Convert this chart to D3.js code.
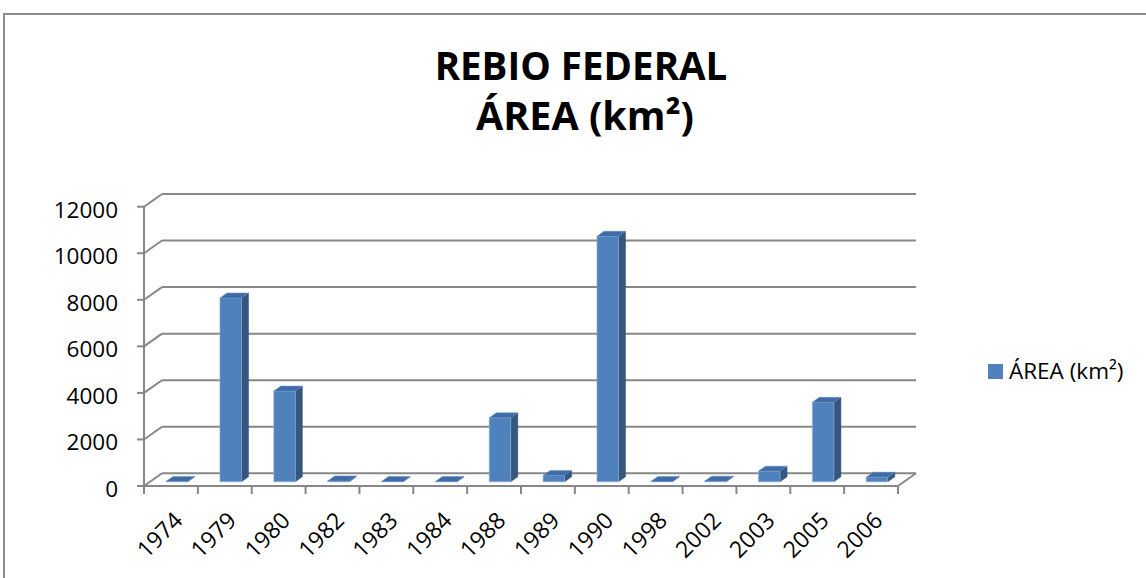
<!DOCTYPE html>
<html>
<head>
<meta charset="utf-8">
<script src="https://cdn.jsdelivr.net/npm/d3@7"></script>
<style>
  html, body { margin: 0; padding: 0; background: #fff; }
  svg { display: block; }
  text { font-family: "Open Sans", "Noto Sans", sans-serif; fill: #000; }
</style>
</head>
<body>
<svg id="chart" width="1146" height="578"></svg>
<script>
// ---- data ----
const categories = ["1974","1979","1980","1982","1983","1984","1988","1989","1990","1998","2002","2003","2005","2006"];
const areaValues = [20, 7900, 3900, 40, 15, 15, 2750, 270, 10550, 15, 30, 460, 3420, 200];
const yTicks = [0, 2000, 4000, 6000, 8000, 10000, 12000];
const titleLines = ["REBIO FEDERAL", "ÁREA (km²)"];
const seriesName = "ÁREA (km²)";

// ---- layout ----
const svg = d3.select("#chart");
const DX = 18, DY = -12.7;       // depth offset (oblique projection)
const zF = 0.33, zB = 0.72;      // bar depth range

const x = d3.scaleBand().domain(categories).range([144, 898]).paddingInner(0).paddingOuter(0);
const y = d3.scaleLinear().domain([0, 12000]).range([486, 206.7]);

const gridColor = "#878787";
const colFront = "#4F81BD", colTop = "#3F6CA6", colSide = "#34567F";

// chart border
svg.append("rect").attr("x", 4).attr("y", 14).attr("width", 1200).attr("height", 700)
  .attr("fill", "none").attr("stroke", "#8c8c8c").attr("stroke-width", 2);

// title
svg.append("text").attr("x", 581).attr("y", 80).attr("text-anchor", "middle")
  .attr("font-size", 38.5).attr("font-weight", "bold").text(titleLines[0]);
svg.append("text").attr("x", 585).attr("y", 130).attr("text-anchor", "middle")
  .attr("font-size", 39.5).attr("font-weight", "bold").text(titleLines[1]);

const g = svg.append("g");
const x0 = x.range()[0], x1 = x.range()[1];

// back wall gridlines + diagonals on left wall
yTicks.forEach(v => {
  g.append("line").attr("x1", x0 + DX).attr("x2", x1 + DX)
    .attr("y1", y(v) + DY).attr("y2", y(v) + DY)
    .attr("stroke", gridColor).attr("stroke-width", 2);
  g.append("line").attr("x1", x0).attr("x2", x0 + DX)
    .attr("y1", y(v)).attr("y2", y(v) + DY)
    .attr("stroke", gridColor).attr("stroke-width", 2);
});

// floor front edge and right diagonal
g.append("line").attr("x1", x0).attr("x2", x1).attr("y1", y(0)).attr("y2", y(0))
  .attr("stroke", gridColor).attr("stroke-width", 2);
g.append("line").attr("x1", x1).attr("x2", x1 + DX).attr("y1", y(0)).attr("y2", y(0) + DY)
  .attr("stroke", gridColor).attr("stroke-width", 2);

// vertical value axis
g.append("line").attr("x1", x0).attr("x2", x0).attr("y1", y(0)).attr("y2", y(12000))
  .attr("stroke", gridColor).attr("stroke-width", 2);
yTicks.forEach(v => {
  g.append("line").attr("x1", x0 - 7).attr("x2", x0).attr("y1", y(v)).attr("y2", y(v))
    .attr("stroke", gridColor).attr("stroke-width", 2);
  g.append("text").attr("x", 118).attr("y", y(v) + 3).attr("dy", "0.35em")
    .attr("text-anchor", "end").attr("font-size", 22.5).text(d3.format("d")(v));
});

// category ticks
const bounds = categories.map(c => x(c)).concat([x1]);
bounds.forEach(bx => {
  g.append("line").attr("x1", bx).attr("x2", bx).attr("y1", y(0)).attr("y2", y(0) + 8)
    .attr("stroke", gridColor).attr("stroke-width", 2);
});

// category labels
categories.forEach(c => {
  const cx = x(c) + x.bandwidth() / 2;
  g.append("text").attr("text-anchor", "end").attr("font-size", 23)
    .attr("transform", `translate(${cx + 13},${522}) rotate(-45)`).text(c);
});

// bars
const bw = x.bandwidth() * 0.4;
categories.forEach((c, i) => {
  const v = areaValues[i];
  const xl = x(c) + (x.bandwidth() - bw) / 2, xr = xl + bw;
  const fx = zF * DX, fy = zF * DY, bx = zB * DX, by = zB * DY;
  const yt = y(v), yb = y(0);
  const pts = a => a.map(p => p.join(",")).join(" ");
  g.append("polygon").attr("points", pts([[xr + fx, yt + fy], [xr + bx, yt + by], [xr + bx, yb + by], [xr + fx, yb + fy]]))
    .attr("fill", colSide).attr("stroke", colSide).attr("stroke-width", 0.5);
  g.append("polygon").attr("points", pts([[xl + fx, yt + fy], [xr + fx, yt + fy], [xr + fx, yb + fy], [xl + fx, yb + fy]]))
    .attr("fill", colFront).attr("stroke", "#8FB0DA").attr("stroke-width", 0.6);
  g.append("polygon").attr("points", pts([[xl + fx, yt + fy], [xr + fx, yt + fy], [xr + bx, yt + by], [xl + bx, yt + by]]))
    .attr("fill", colTop).attr("stroke", "#6A8FC2").attr("stroke-width", 0.5);
});

// legend
svg.append("rect").attr("x", 988).attr("y", 364).attr("width", 15).attr("height", 15).attr("fill", colFront);
svg.append("text").attr("x", 1009).attr("y", 379).attr("font-size", 22.5).text(seriesName);
</script>
</body>
</html>
